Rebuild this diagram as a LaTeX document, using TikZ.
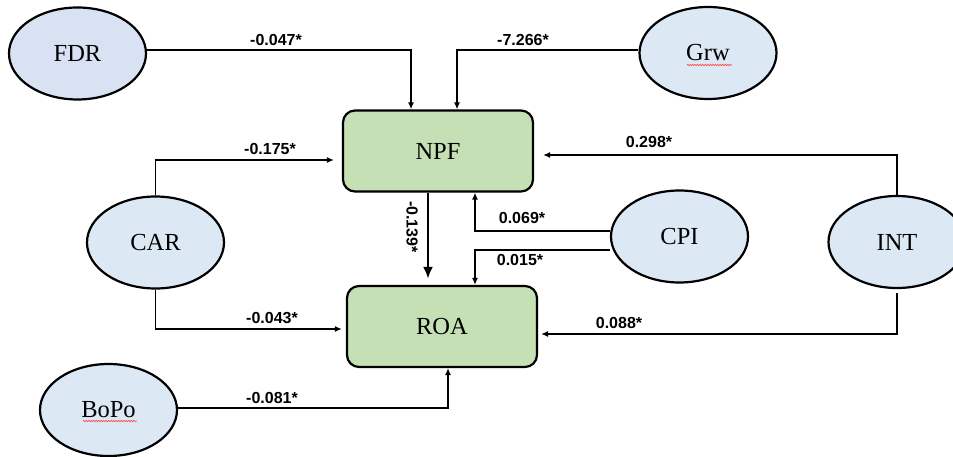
\documentclass[tikz,border=0pt]{standalone}
\usepackage{fontspec}
\setmainfont{Liberation Serif}
\newfontfamily\lblfont{Liberation Sans}
\usetikzlibrary{arrows.meta,shapes.geometric,decorations.pathmorphing}
\definecolor{ellfill}{HTML}{DDE8F5}
\definecolor{ellfillb}{HTML}{D9E2F3}
\definecolor{boxfill}{HTML}{C5E0B4}
\begin{document}
\begin{tikzpicture}[x=1pt,y=-1pt,
  latent/.style={ellipse, draw, line width=2.2pt, fill=ellfill, minimum width=137pt, minimum height=92pt, inner sep=0pt, font=\fontsize{24.5}{28}\selectfont},
  obsbox/.style={rectangle, rounded corners=12pt, draw, line width=2.2pt, fill=boxfill, minimum width=190pt, minimum height=81pt, inner sep=0pt, font=\fontsize{24.5}{28}\selectfont},
  conn/.style={line width=1.8pt, -{Latex[length=7pt,width=6pt]}},
  bigconn/.style={line width=2.4pt, -{Latex[length=12pt,width=10pt]}},
  coef/.style={font=\lblfont\bfseries\fontsize{16}{18}\selectfont, inner sep=0pt},
  spell/.style={red!70, line width=0.7pt, decorate, decoration={snake, amplitude=0.6pt, segment length=2.5pt}}
]
\useasboundingbox (0,0) rectangle (953,457);
% nodes
\node[latent, fill=ellfillb] (FDR) at (77.5,53.5) {FDR};
\node[latent] (Grw) at (708,53) {Grw};
\node[latent] (CAR) at (155.5,242.5) {CAR};
\node[latent] (BoPo) at (108.5,410) {BoPo};
\node[latent] (CPI) at (679.5,236.5) {CPI};
\node[latent] (INT) at (897,242) {INT};
\node[obsbox] (NPF) at (438,151) {NPF};
\node[obsbox] (ROA) at (442,326.5) {ROA};
% spell-check underlines
\coordinate (gu1) at (687,65); \coordinate (gu2) at (732,65);
\draw[spell] (gu1) -- (gu2);
\coordinate (bu1) at (83,421); \coordinate (bu2) at (137,421);
\draw[spell] (bu1) -- (bu2);
% connectors
\draw[conn] ([yshift=3.5pt]FDR.east) -| ([xshift=-27pt]NPF.north);
\draw[conn] ([yshift=3pt]Grw.west) -| ([xshift=19pt]NPF.north);
\draw[conn] (CAR.north) |- ([yshift=-9pt,xshift=-8pt]NPF.west);
\draw[conn] (CAR.south) |- ([yshift=-2.5pt,xshift=-4pt]ROA.west);
\draw[conn] ([yshift=2pt]BoPo.east) -| ([xshift=6pt]ROA.south);
\draw[bigconn, shorten >=6pt] ([xshift=-10pt]NPF.south) -- ([xshift=-10pt]NPF.south |- ROA.north);
\draw[conn] ([yshift=5.5pt]CPI.west) -| ([xshift=37pt]NPF.south);
\draw[conn] ([yshift=-13.5pt]CPI.west) -| ([xshift=33pt]ROA.north);
\draw[conn] (INT.north) |- ([yshift=-4pt,xshift=9pt]NPF.east);
\draw[conn] ([yshift=-4pt]INT.south) |- ([yshift=-7.5pt,xshift=3pt]ROA.east);
% coefficients
\node[coef] (l1) at (276,40) {-0.047*};
\node[coef] (l2) at (523,40) {-7.266*};
\node[coef] (l3) at (270,149) {-0.175*};
\node[coef] (l4) at (272,318) {-0.043*};
\node[coef] (l5) at (272,398) {-0.081*};
\node[coef, rotate=-90] (l6) at (412,227) {-0.139*};
\node[coef] (l7) at (522,217.5) {0.069*};
\node[coef] (l8) at (520,260) {0.015*};
\node[coef] (l9) at (649,142) {0.298*};
\node[coef] (l10) at (619,323) {0.088*};
\end{tikzpicture}
\end{document}
